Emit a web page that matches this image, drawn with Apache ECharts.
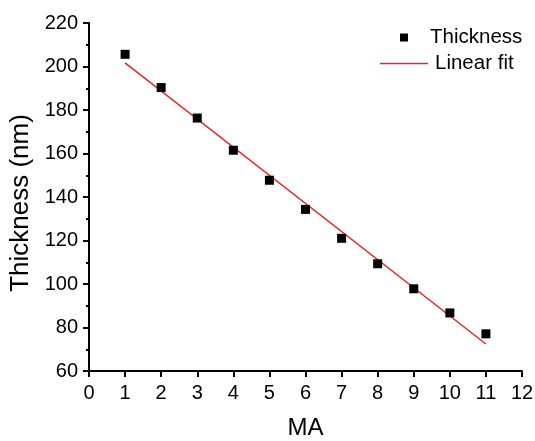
<!DOCTYPE html>
<html>
<head>
<meta charset="utf-8">
<script src="https://cdn.jsdelivr.net/npm/echarts@6/dist/echarts.min.js"></script>
<style>html,body{margin:0;padding:0;background:#fff}#c{width:535px;height:441px}</style>
</head>
<body>
<div id="c"></div>
<script>
var maValues = [1, 2, 3, 4, 5, 6, 7, 8, 9, 10, 11];
var thickness = [205.6, 190.3, 176.3, 161.5, 147.7, 134.3, 121.0, 109.3, 97.8, 86.7, 77.1];
var fitX = [1, 11];
var fitY = [201.7, 72.4];

var FONT = 'Arial, "Liberation Sans", sans-serif';
var chart = echarts.init(document.getElementById('c'), null, {renderer: 'canvas'});
chart.setOption({
  animation: false,
  backgroundColor: '#fff',
  grid: {left: 89, right: 13, top: 23, bottom: 70, containLabel: false, outerBoundsMode: 'none'},
  legend: [{
    data: [{name: 'Thickness', icon: 'rect'}],
    left: 395, top: 22,
    itemWidth: 8, itemHeight: 8,
    textStyle: {fontFamily: FONT, fontSize: 20.5, color: '#000', padding: [0, 0, 0, 17]}
  }, {
    data: [{name: 'Linear fit', icon: 'rect'}],
    left: 375, top: 48,
    itemWidth: 48, itemHeight: 1.5,
    textStyle: {fontFamily: FONT, fontSize: 20.5, color: '#000', padding: [0, 0, 0, 2]}
  }],
  xAxis: {
    type: 'value', min: 0, max: 12, interval: 1,
    name: 'MA', nameLocation: 'middle', nameGap: 45,
    nameTextStyle: {fontFamily: FONT, fontSize: 24, color: '#000'},
    axisLine: {show: true, onZero: false, lineStyle: {color: '#000', width: 2}},
    axisTick: {show: true, inside: false, length: 6, lineStyle: {color: '#000', width: 2}},
    axisLabel: {fontFamily: FONT, fontSize: 20, color: '#000', margin: 12},
    splitLine: {show: false}
  },
  yAxis: {
    type: 'value', min: 60, max: 220, interval: 20,
    name: 'Thickness (nm)', nameLocation: 'middle', nameGap: 53, nameRotate: 90,
    nameTextStyle: {fontFamily: FONT, fontSize: 26, color: '#000', padding: [0, 12, 0, 0]},
    axisLine: {show: true, onZero: false, lineStyle: {color: '#000', width: 2}},
    axisTick: {show: true, inside: false, length: 6, lineStyle: {color: '#000', width: 2}},
    minorTick: {show: true, splitNumber: 2, length: 3, lineStyle: {color: '#000', width: 2}},
    axisLabel: {fontFamily: FONT, fontSize: 20, color: '#000', margin: 11},
    splitLine: {show: false}
  },
  series: [{
    name: 'Linear fit', type: 'line',
    data: fitX.map(function (x, i) { return [x, fitY[i]]; }),
    symbol: 'none', showSymbol: false,
    lineStyle: {color: '#e8262a', width: 1.5},
    itemStyle: {color: '#e8262a'},
    z: 2
  }, {
    name: 'Thickness', type: 'scatter',
    data: maValues.map(function (x, i) { return [x, thickness[i]]; }),
    symbol: 'rect', symbolSize: 9,
    itemStyle: {color: '#000', opacity: 1},
    z: 3
  }]
});
</script>
</body>
</html>
